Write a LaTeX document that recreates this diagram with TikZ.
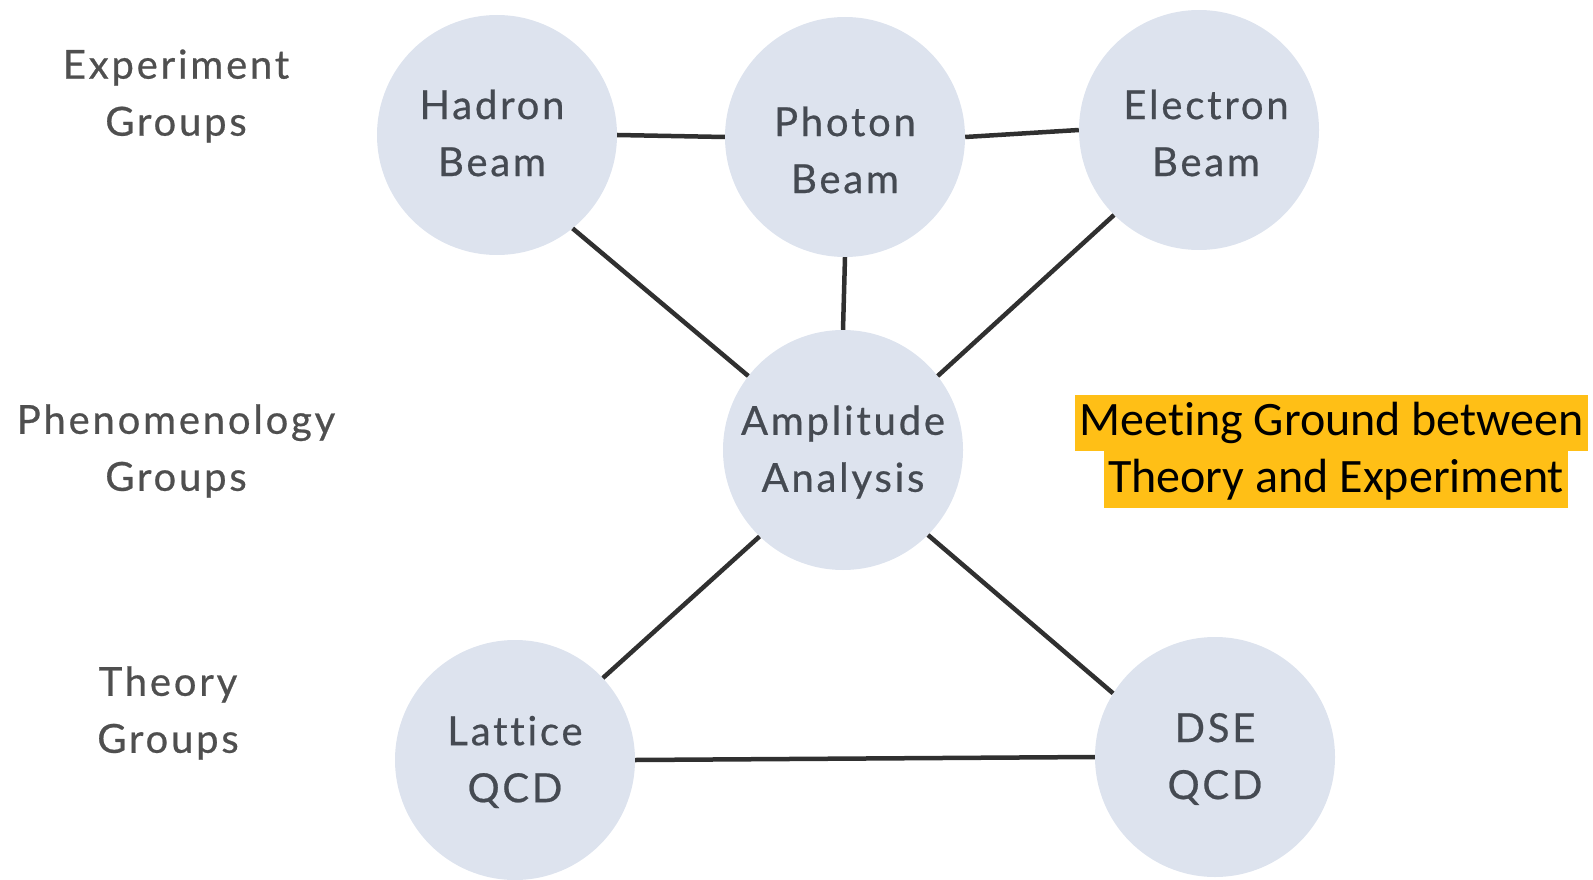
\documentclass[tikz,border=0pt]{standalone}
\usepackage{fontspec}
\setmainfont{Lato}
\newfontfamily\spacedfont[LetterSpace=7,FakeBold=0.6,Ligatures=NoCommon]{Lato}
\newfontfamily\carlito[Ligatures=NoCommon]{Carlito}
\definecolor{circfill}{HTML}{DDE3EE}
\definecolor{txtgray}{HTML}{454A52}
\definecolor{lblgray}{HTML}{4F4F4F}
\definecolor{linegray}{HTML}{303030}
\definecolor{hlfill}{HTML}{FFBF16}
\tikzset{
  bubble/.style={circle, fill=circfill, minimum size=240pt, inner sep=0pt},
  bubtext/.style={text=txtgray, align=center, font=\spacedfont\fontsize{40}{57}\selectfont, inner sep=0pt},
  grouptext/.style={text=lblgray, align=center, font=\spacedfont\fontsize{40}{57}\selectfont, inner sep=0pt},
  link/.style={draw=linegray, line width=4.5pt},
  hlbox/.style={fill=hlfill, text=black, font=\carlito\fontsize{48}{56}\selectfont, minimum height=56.5pt, inner xsep=4pt, inner ysep=0pt}
}
\begin{document}
\begin{tikzpicture}[x=1pt,y=-1pt]
\useasboundingbox (0,0) rectangle (1593,880);
% circles
\node (hadron) [bubble] at (497,135) {};
\node (photon) [bubble] at (845,137) {};
\node (electron) [bubble] at (1199,130) {};
\node (amp) [bubble] at (843,450) {};
\node (lattice) [bubble] at (515,760) {};
\node (dse) [bubble] at (1215,757) {};
% connectors
\draw[link] (hadron.east) -- (photon.west);
\draw[link] (photon.east) -- (electron.west);
\draw[link] (hadron.-51) -- (amp.142);
\draw[link] (photon.south) -- (amp.north);
\draw[link] (electron.-135) -- (amp.38);
\draw[link] (amp.-134) -- (lattice.43);
\draw[link] (amp.-45) -- (dse.148);
\draw[link] (lattice.east) -- (dse.west);
% circle labels
\node (hadront) [bubtext] at (492,133) {Hadron\\Beam};
\node (photont) [bubtext] at (845,150) {Photon\\Beam};
\node (electront) [bubtext] at (1206,133) {Electron\\Beam};
\node (ampt) [bubtext] at (843,452) {Amplitude\\Analysis};
\node (latticet) [bubtext] at (515,762) {Lattice\\QCD};
\node (dset) [bubtext] at (1215,759) {DSE\\QCD};
% group labels
\node (expg) [grouptext] at (176,96) {Experiment\\Groups};
\node (phenog) [grouptext] at (176,451) {Phenomenology\\Groups};
\node (theoryg) [grouptext] at (168,713) {Theory\\Groups};
% highlight
\node (mg1) [hlbox] at (1331.5,423) {Meeting Ground between};
\node (mg2) [hlbox] at (1336,479.5) {Theory and Experiment};
\end{tikzpicture}
\end{document}
